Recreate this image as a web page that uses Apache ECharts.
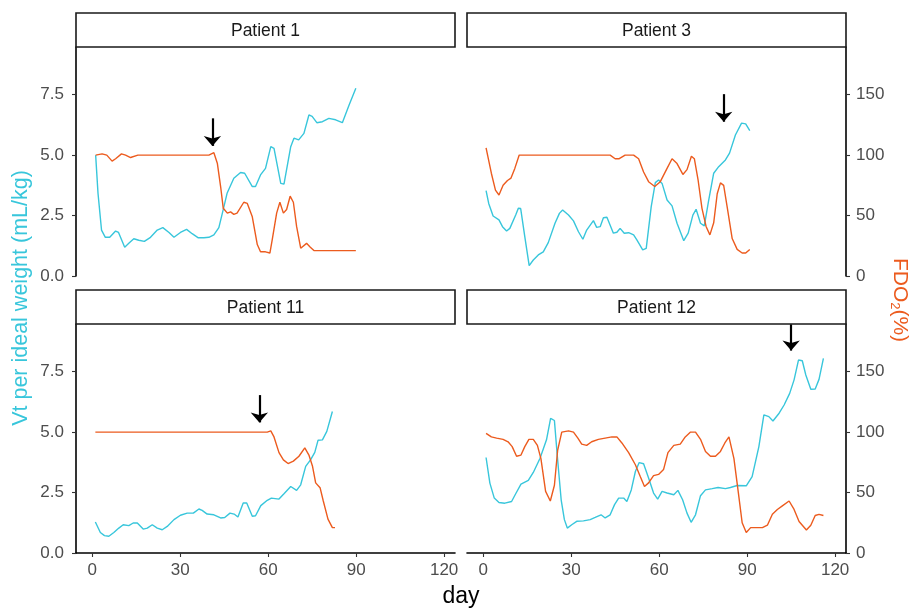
<!DOCTYPE html>
<html><head><meta charset="utf-8">
<script src="https://cdn.jsdelivr.net/npm/echarts@6/dist/echarts.min.js"></script>
<style>html,body{margin:0;padding:0;background:#fff}#c{width:919px;height:609px}</style>
</head><body><div id="c"></div><script>
// ---- data ----
const panelTitles = ['Patient 1', 'Patient 3', 'Patient 11', 'Patient 12'];
const xTicks = [0, 30, 60, 90, 120];
const yLeftTicks = [0, 2.5, 5, 7.5];
const yRightTicks = [0, 50, 100, 150];

const p1VtDay = [1.2,2,3.2,4.5,6,8,9,11.1,12.5,14.2,15.9,17.8,19.9,22.2,24.1,26.2,27.9,30.1,32.2,34.1,36.2,38.1,39.8,41.5,43.2,44.4,46,48.3,50.6,52,54.6,55.7,57.4,59.1,60.9,62,64.3,65.4,67.7,68.8,70.4,72.2,73.9,75,76.6,78.5,80.7,83,85.3,87.6,89.9];
const p1Vt = [5.0,3.42,1.9,1.6,1.6,1.86,1.8,1.19,1.35,1.54,1.48,1.43,1.6,1.9,2.0,1.8,1.6,1.8,1.93,1.75,1.58,1.58,1.6,1.7,2.0,2.6,3.42,4.04,4.28,4.25,3.7,3.7,4.18,4.45,5.35,5.28,3.83,3.8,5.35,5.7,5.63,5.9,6.66,6.6,6.34,6.38,6.52,6.46,6.34,7.07,7.76];
const p1FdoDay = [1.2,3.4,5,6.8,8,10,11.4,13.1,15.6,39.8,41.5,42.7,43.8,44.7,46.1,47.2,48.3,49.4,51.7,52.9,54.6,56.3,57.4,59.1,60.6,61.4,62.9,64,65.2,66.3,67.5,68.6,69.7,71.1,73.1,74.3,75.6,89.9];
const p1Fdo = [100,101,100,95,97,101,100,98,100,100,102,93,74,56,52,53,51,52,61,60,49,26,20,20,19,30,52,61,52,55,66,61,41,23,27,24,21,21];

const p3VtDay = [1.0,1.9,3.4,5.4,6.6,8,9.1,11.1,12,12.8,14.2,15.7,17.1,18.8,20.5,22.2,24.5,26,27.1,29.1,30.8,32.5,34,35.3,37.6,38.7,39.9,41,42.2,44.4,45.6,46.7,48.1,49.6,51.3,52.4,54.4,55.6,57.3,58.7,59.8,61,62.7,64.4,66.1,68.4,69.9,71.5,72.6,74.1,75.4,76.9,78.6,80.3,82.6,84,86,88.1,89.5,90.9];
const p3Vt = [3.53,3.0,2.48,2.32,2.04,1.86,1.97,2.52,2.8,2.79,1.63,0.43,0.66,0.87,1.0,1.38,2.18,2.59,2.73,2.52,2.28,1.83,1.52,1.9,2.29,2.01,2.04,2.41,2.43,1.77,1.81,1.97,1.77,1.79,1.7,1.49,1.08,1.14,2.87,3.86,3.97,3.83,3.14,2.9,2.18,1.46,1.77,2.52,2.76,2.18,2.07,3.14,4.25,4.52,4.8,5.08,5.83,6.32,6.29,6.01];
const p3FdoDay = [1.0,2.8,4.2,5.4,6.8,8.3,9.5,10.8,12.3,14.2,43.3,45,46.4,48.4,51.3,53,54.7,56.4,58.5,60.4,62.7,64.4,66.1,68.1,69.5,71,72,73.3,74.6,76,77.3,78.6,79.8,80.9,82,83.2,84.9,86.6,88.3,89.5,90.9];
const p3Fdo = [106,85,71,67,75,79,81,89,100,100,100,97,97,100,100,97,86,78,74,78,89,97,93,84,88,99,97,79,56,41,34,44,68,77,75,57,31,22,19,19,22];

const p11VtDay = [1.1,2.8,4.2,5.7,7.4,9.1,10.6,12.5,14,15.4,17.4,18.8,20.5,22.2,23.9,25.6,27.9,30.1,32.4,34.5,36.4,37.5,39.2,41.5,43.8,45.2,47,48.4,49.7,51.5,52.7,54.6,55.7,57.5,59.7,61.1,63.7,65.4,67.7,69.7,71.1,72.8,74.5,75.9,77,78.5,80,81.9];
const p11Vt = [1.28,0.85,0.72,0.69,0.85,1.03,1.17,1.13,1.24,1.24,0.99,1.03,1.17,1.03,0.96,1.1,1.38,1.56,1.65,1.65,1.82,1.76,1.61,1.58,1.45,1.47,1.65,1.61,1.49,2.07,2.07,1.52,1.54,1.96,2.18,2.27,2.23,2.45,2.75,2.59,2.82,3.58,3.86,4.16,4.66,4.68,5.03,5.85];
const p11FdoDay = [1.1,59.7,60.9,62,63.7,65.2,66.8,68.6,70.5,72.5,73.9,75.1,76.2,77.7,78.8,80.4,81.9,82.8];
const p11Fdo = [100,100,101,96,83,77,74,76,80,87,81,72,58,54,43,28,21,21];

const p12VtDay = [1,2.3,3.8,5.4,7.4,9.7,11.1,12.9,15.4,17.1,19.4,21.6,23,24.3,25.3,26.6,27.7,28.7,30.2,31.9,34.2,36.5,38.2,40.2,41.6,43.3,44.8,46.2,47.9,49,50.5,51.9,53.2,54.7,56.4,58.1,59.5,61,62.7,65,66.4,68,69.5,70.9,72.4,74.1,75.8,78.1,80.1,82.6,84.3,86.6,89.7,91.7,94,95.7,97.4,98.8,100.9,102.6,104.5,106,107.5,108.8,110,111.7,113.2,114.5,116];
const p12Vt = [3.95,2.89,2.27,2.09,2.06,2.13,2.45,2.85,3.0,3.33,3.92,4.68,5.57,5.48,3.99,2.2,1.38,1.03,1.17,1.31,1.33,1.38,1.47,1.58,1.45,1.58,2.0,2.27,2.27,2.13,2.61,3.37,3.74,3.69,3.1,2.48,2.23,2.55,2.48,2.41,2.59,2.2,1.65,1.27,1.58,2.37,2.61,2.66,2.71,2.66,2.71,2.79,2.78,3.16,4.4,5.71,5.64,5.46,5.78,6.12,6.6,7.16,7.98,7.95,7.36,6.77,6.78,7.18,8.05];
const p12FdoDay = [1,2.8,4.6,6.8,8.5,9.9,11.4,12.9,14.2,15.6,17.1,18.5,19.7,21.3,22.9,24.3,25.4,26.8,29.1,30.8,32.3,33.6,35.3,37,39.3,41.6,43.9,45.6,47.3,49.6,51.9,53.6,55,56.4,58.1,59.8,61.5,63,65,67.2,68.9,70.7,72.4,74.1,75.8,77.5,79.2,80.9,82.4,83.8,85.5,87,88.3,89.7,91.2,92.9,95.2,96.9,98.6,100.3,102,104.3,106,107.7,110.2,111.7,113.2,114.5,116];
const p12Fdo = [99,96,95,94,92,88,80,81,88,94,94,89,78,51,43,56,85,100,101,100,95,90,89,92,94,95,96,96,91,83,73,63,55,58,64,65,69,83,89,90,96,100,100,94,84,80,80,84,91,96,78,50,25,17,21,21,21,23,32,36,39,43,36,26,19,23,31,32,31];

// arrows marking an event day (day, start Vt, tip Vt)
const arrowDay = [41, 82, 57, 105];
const arrowFrom = [6.52, 7.52, 6.53, 9.46];
const arrowTo = [5.38, 6.38, 5.40, 8.37];

// ---- build ----
const vtDays = [p1VtDay, p3VtDay, p11VtDay, p12VtDay];
const vtVals = [p1Vt, p3Vt, p11Vt, p12Vt];
const fdoDays = [p1FdoDay, p3FdoDay, p11FdoDay, p12FdoDay];
const fdoVals = [p1Fdo, p3Fdo, p11Fdo, p12Fdo];
const zip = (a, b) => a.slice(0, Math.min(a.length, b.length)).map((d, i) => [d, b[i]]);

const CYAN = '#38C6DB', ORANGE = '#EC5B1E', FONT = 'Liberation Sans, Arial, sans-serif';
const gridPos = [
  {left: 76, top: 47}, {left: 467, top: 47},
  {left: 76, top: 324}, {left: 467, top: 324}
];
const W = 379, H = 229;
const YMAX = 9.47;
const TICKFS = 17;

const grids = [], xAxes = [], yAxes = [], series = [], graphics = [];
for (let i = 0; i < 4; i++) {
  const isLeft = i % 2 === 0, isBottom = i >= 2;
  grids.push({left: gridPos[i].left, top: gridPos[i].top, width: W, height: H, containLabel: false});
  xAxes.push({
    type: 'value', gridIndex: i, min: -5.5, max: 123.7,
    axisLine: {show: isBottom, onZero: false, lineStyle: {color: '#000', width: 1.6}},
    axisTick: {show: isBottom, length: 4, customValues: xTicks, lineStyle: {color: '#333', width: 1.1}},
    axisLabel: {show: isBottom, customValues: xTicks, color: '#4d4d4d', fontSize: TICKFS, fontFamily: FONT, margin: 9},
    splitLine: {show: false}
  });
  yAxes.push({
    type: 'value', gridIndex: i, position: 'left', min: 0, max: YMAX,
    axisLine: {show: isLeft, onZero: false, lineStyle: {color: '#000', width: 1.6}},
    axisTick: {show: isLeft, length: 4, customValues: yLeftTicks, lineStyle: {color: '#333', width: 1.1}},
    axisLabel: {show: isLeft, customValues: yLeftTicks, color: '#4d4d4d', fontSize: TICKFS, fontFamily: FONT, margin: 12,
      formatter: v => v.toFixed(1)},
    splitLine: {show: false}
  });
  yAxes.push({
    type: 'value', gridIndex: i, position: 'right', min: 0, max: YMAX * 20,
    axisLine: {show: !isLeft, onZero: false, lineStyle: {color: '#000', width: 1.6}},
    axisTick: {show: !isLeft, length: 4, customValues: yRightTicks, lineStyle: {color: '#333', width: 1.1}},
    axisLabel: {show: !isLeft, customValues: yRightTicks, color: '#4d4d4d', fontSize: TICKFS, fontFamily: FONT, margin: 10},
    splitLine: {show: false}
  });
  series.push({
    type: 'line', xAxisIndex: i, yAxisIndex: 2 * i, data: zip(vtDays[i], vtVals[i]),
    showSymbol: false, symbol: 'none', lineStyle: {color: CYAN, width: 1.4}, z: 3,
    markLine: {
      silent: true, symbol: ['none', 'arrow'], symbolSize: [13, 10], animation: false,
      label: {show: false},
      lineStyle: {color: '#000', width: 2.2, type: 'solid'},
      data: [[{coord: [arrowDay[i], arrowFrom[i]]}, {coord: [arrowDay[i], arrowTo[i]]}]]
    }
  });
  series.push({
    type: 'line', xAxisIndex: i, yAxisIndex: 2 * i + 1, data: zip(fdoDays[i], fdoVals[i]),
    showSymbol: false, symbol: 'none', lineStyle: {color: ORANGE, width: 1.4}, z: 3
  });
  // facet strip
  const sy = isBottom ? 290 : 13;
  graphics.push({
    type: 'rect', shape: {x: gridPos[i].left, y: sy, width: W, height: gridPos[i].top - sy},
    style: {fill: '#fff', stroke: '#1a1a1a', lineWidth: 1.6}, z: 10
  });
  graphics.push({
    type: 'text', x: gridPos[i].left + W / 2, y: sy + (gridPos[i].top - sy) / 2 + 1,
    style: {text: panelTitles[i], fill: '#1a1a1a', font: '17.5px ' + FONT, align: 'center', verticalAlign: 'middle'}, z: 11
  });
}
// axis titles
graphics.push({
  type: 'text', x: 21, y: 298, rotation: Math.PI / 2,
  style: {text: 'Vt per ideal weight (mL/kg)', fill: CYAN, font: '21.5px ' + FONT, align: 'center', verticalAlign: 'middle'}
});
graphics.push({
  type: 'text', x: 461, y: 597,
  style: {text: 'day', fill: '#000', font: '23px ' + FONT, align: 'center', verticalAlign: 'middle'}
});
graphics.push({
  type: 'text', x: 900, y: 300, rotation: -Math.PI / 2,
  style: {
    text: '{a|FDO}{b|2}{a|(%)}', align: 'center', verticalAlign: 'middle',
    rich: {
      a: {fill: ORANGE, fontSize: 21, fontFamily: FONT},
      b: {fill: ORANGE, fontSize: 13, fontFamily: FONT, padding: [11, 0, 0, 0]}
    }
  }
});

const chart = echarts.init(document.getElementById('c'), null, {renderer: 'canvas'});
chart.setOption({
  animation: false, backgroundColor: '#fff',
  grid: grids, xAxis: xAxes, yAxis: yAxes, series: series, graphic: graphics
});
</script></body></html>
